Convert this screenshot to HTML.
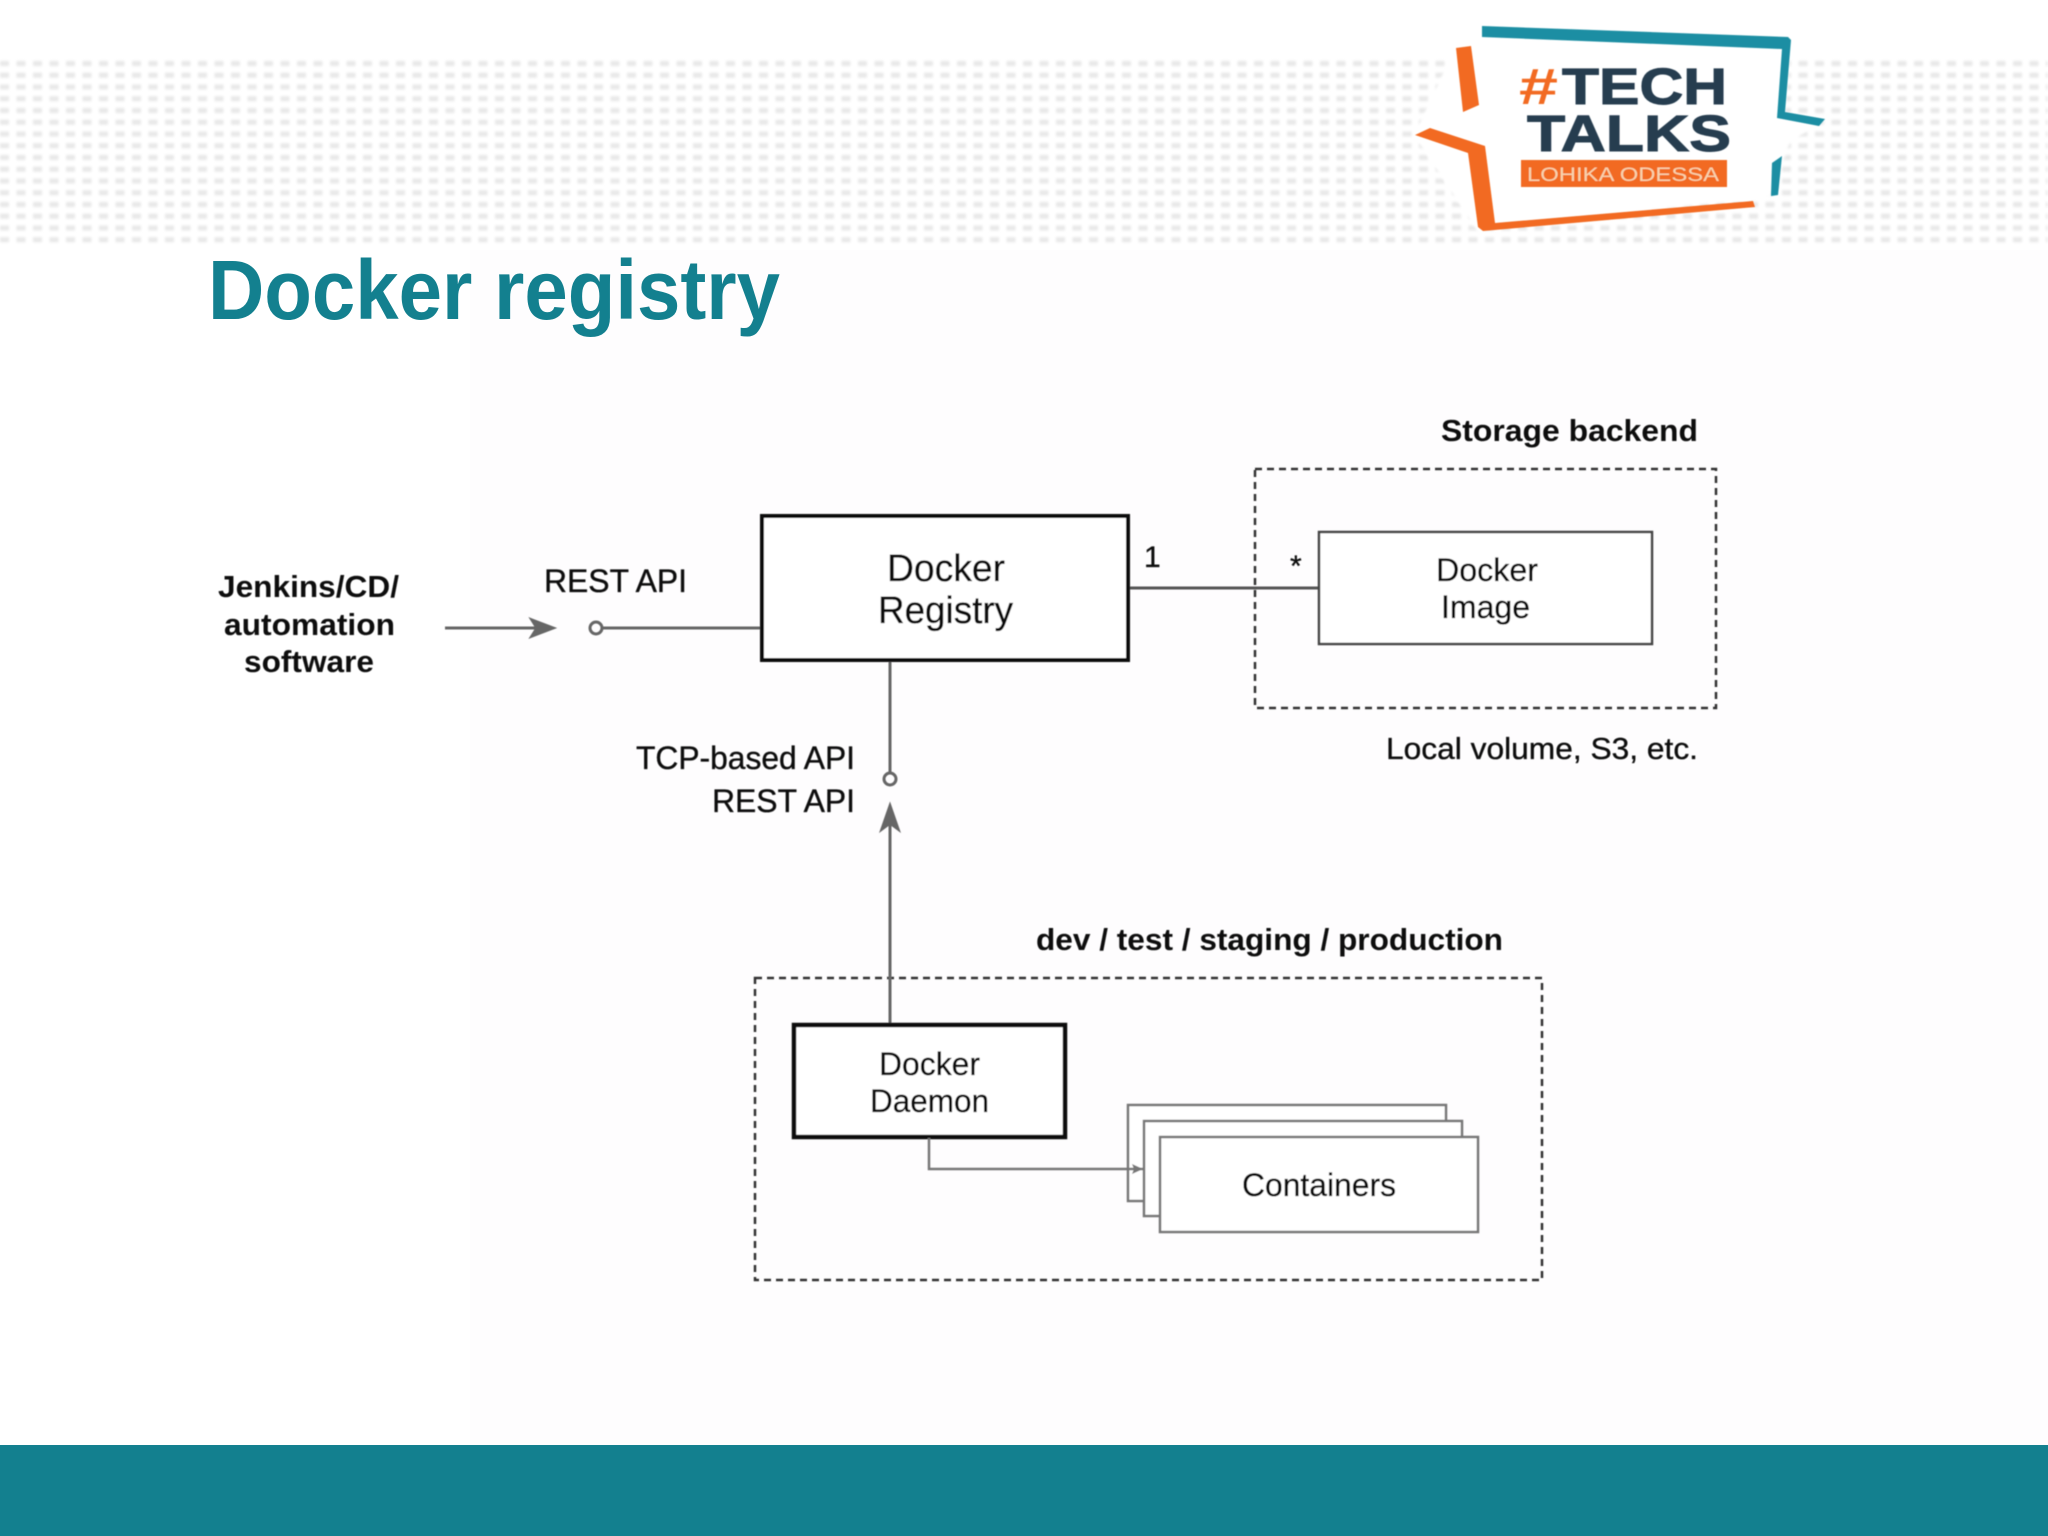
<!DOCTYPE html>
<html>
<head>
<meta charset="utf-8">
<title>Docker registry</title>
<style>
html,body{margin:0;padding:0;background:#fff;width:2048px;height:1536px;overflow:hidden}
svg{display:block}
text{font-family:"Liberation Sans",sans-serif;fill:#111}
.n{stroke:#111;stroke-width:.35px}
.b{font-weight:bold}
</style>
</head>
<body>
<svg width="2048" height="1536" viewBox="0 0 2048 1536" xmlns="http://www.w3.org/2000/svg">
<defs>
<pattern id="dots" x="0" y="57" width="16.5" height="11.75" patternUnits="userSpaceOnUse">
<rect x="0" y="4" width="9" height="5" fill="#e8e8e8"/>
</pattern>
<filter id="soft" x="-5%" y="-5%" width="110%" height="110%"><feGaussianBlur stdDeviation="0.55"/></filter>
<filter id="softer" x="-5%" y="-5%" width="110%" height="110%"><feGaussianBlur stdDeviation="1.3"/></filter>
</defs>

<rect width="2048" height="1536" fill="#fff"/>
<rect x="470" y="250" width="1578" height="1195" fill="#fefdfe"/>
<rect x="0" y="57" width="2048" height="188" fill="url(#dots)" filter="url(#softer)"/>

<!-- logo -->
<polygon points="1481,24 1792,36 1785,112 1826,119 1790,142 1770,197 1495,226 1478,232 1414,135 1456,46" fill="#fff" filter="url(#softer)"/>
<g filter="url(#soft)">
<polygon points="1482,26 1788,37 1791,40 1785,112 1825,119 1819,126 1777,118 1782,49 1482,37" fill="#1b8ea3"/>
<polygon points="1782,156 1778,195 1771,196 1772,163" fill="#1b8ea3"/>
<polygon points="1456,48 1471,46 1479,105 1463,112" fill="#f26a21"/>
<polygon points="1415,135 1430,128 1485,146 1495,223 1753,201 1755,207 1483,231 1478,227 1468,153" fill="#f26a21"/>
<rect x="1521" y="160" width="206" height="27" fill="#f26a21"/>
<text x="1519" y="104" font-size="51" class="b" textLength="39" lengthAdjust="spacingAndGlyphs" style="fill:#f26a21">#</text>
<text x="1562" y="104" font-size="51" class="b" textLength="165" lengthAdjust="spacingAndGlyphs" style="fill:#263d50;stroke:#263d50;stroke-width:1px">TECH</text>
<text x="1527" y="151" font-size="51" class="b" textLength="204" lengthAdjust="spacingAndGlyphs" style="fill:#263d50;stroke:#263d50;stroke-width:1px">TALKS</text>
<text x="1527" y="181" font-size="19" textLength="192" lengthAdjust="spacingAndGlyphs" style="fill:#f8d3ae">LOHIKA ODESSA</text>
</g>

<!-- title -->
<text x="208" y="319" font-size="84" class="b" textLength="572" lengthAdjust="spacingAndGlyphs" style="fill:#13808f">Docker registry</text>

<!-- diagram -->
<g filter="url(#soft)">
<!-- dashed groups -->
<rect x="1255" y="469" width="461" height="239" fill="none" stroke="#333" stroke-width="2.5" stroke-dasharray="7 5"/>
<rect x="755" y="978" width="787" height="302" fill="none" stroke="#333" stroke-width="2.5" stroke-dasharray="7 5"/>

<!-- connectors -->
<g fill="none" stroke="#666" stroke-width="3">
<line x1="445" y1="628" x2="552" y2="628"/>
<path d="M532,620 L553,628 L532,636 L537,628Z" fill="#666"/>
<circle cx="596" cy="628" r="6"/>
<line x1="602" y1="628" x2="762" y2="628"/>
<line x1="890" y1="660" x2="890" y2="773"/>
<circle cx="890" cy="779" r="6"/>
<line x1="890" y1="808" x2="890" y2="1026"/>
<path d="M882,829 L890,806 L898,829 L890,823Z" fill="#666"/>
</g>
<line x1="1130" y1="588" x2="1320" y2="588" stroke="#555" stroke-width="3"/>

<!-- registry -->
<rect x="762" y="516" width="366" height="144" fill="#fff" stroke="#111" stroke-width="4"/>
<!-- image -->
<rect x="1319" y="532" width="333" height="112" fill="#fff" stroke="#444" stroke-width="2.5"/>
<!-- daemon -->
<rect x="794" y="1025" width="271" height="112" fill="#fff" stroke="#111" stroke-width="4.5"/>
<!-- containers -->
<rect x="1128" y="1105" width="318" height="96" fill="#fff" stroke="#777" stroke-width="2.5"/>
<rect x="1144" y="1121" width="318" height="95" fill="#fff" stroke="#777" stroke-width="2.5"/>
<polyline points="929,1138 929,1169 1143,1169" fill="none" stroke="#777" stroke-width="2.5"/>
<polygon points="1143,1169 1132,1164 1134,1169 1132,1174" fill="#777"/>
<rect x="1160" y="1137" width="318" height="95" fill="#fff" stroke="#777" stroke-width="2.5"/>

<!-- labels -->
<text x="1441" y="441" font-size="31" class="b" textLength="257" lengthAdjust="spacingAndGlyphs">Storage backend</text>
<text x="1036" y="950" font-size="31" class="b" textLength="467" lengthAdjust="spacingAndGlyphs">dev / test / staging / production</text>
<text x="218" y="597" font-size="31" class="b" textLength="181" lengthAdjust="spacingAndGlyphs">Jenkins/CD/</text>
<text x="224" y="635" font-size="31" class="b" textLength="171" lengthAdjust="spacingAndGlyphs">automation</text>
<text x="244" y="672" font-size="31" class="b" textLength="130" lengthAdjust="spacingAndGlyphs">software</text>

<text x="544" y="592" font-size="32" class="n" textLength="143" lengthAdjust="spacingAndGlyphs">REST API</text>
<text x="636" y="769" font-size="32" class="n" textLength="219" lengthAdjust="spacingAndGlyphs">TCP-based API</text>
<text x="712" y="812" font-size="32" class="n" textLength="143" lengthAdjust="spacingAndGlyphs">REST API</text>

<text x="887" y="581" font-size="38" class="n" textLength="118" lengthAdjust="spacingAndGlyphs">Docker</text>
<text x="878" y="623" font-size="38" class="n" textLength="135" lengthAdjust="spacingAndGlyphs">Registry</text>

<text x="1144" y="567" font-size="30" class="n">1</text>
<text x="1290" y="576" font-size="30" class="n">*</text>

<text x="1436" y="581" font-size="32" class="n" textLength="102" lengthAdjust="spacingAndGlyphs">Docker</text>
<text x="1441" y="618" font-size="32" class="n" textLength="89" lengthAdjust="spacingAndGlyphs">Image</text>
<text x="1386" y="759" font-size="31" class="n" textLength="312" lengthAdjust="spacingAndGlyphs">Local volume, S3, etc.</text>

<text x="879" y="1075" font-size="32" class="n" textLength="101" lengthAdjust="spacingAndGlyphs">Docker</text>
<text x="870" y="1112" font-size="32" class="n" textLength="119" lengthAdjust="spacingAndGlyphs">Daemon</text>
<text x="1242" y="1196" font-size="32" class="n" textLength="154" lengthAdjust="spacingAndGlyphs">Containers</text>
</g>

<!-- footer -->
<rect x="0" y="1445" width="2048" height="91" fill="#13808f"/>
</svg>
</body>
</html>
